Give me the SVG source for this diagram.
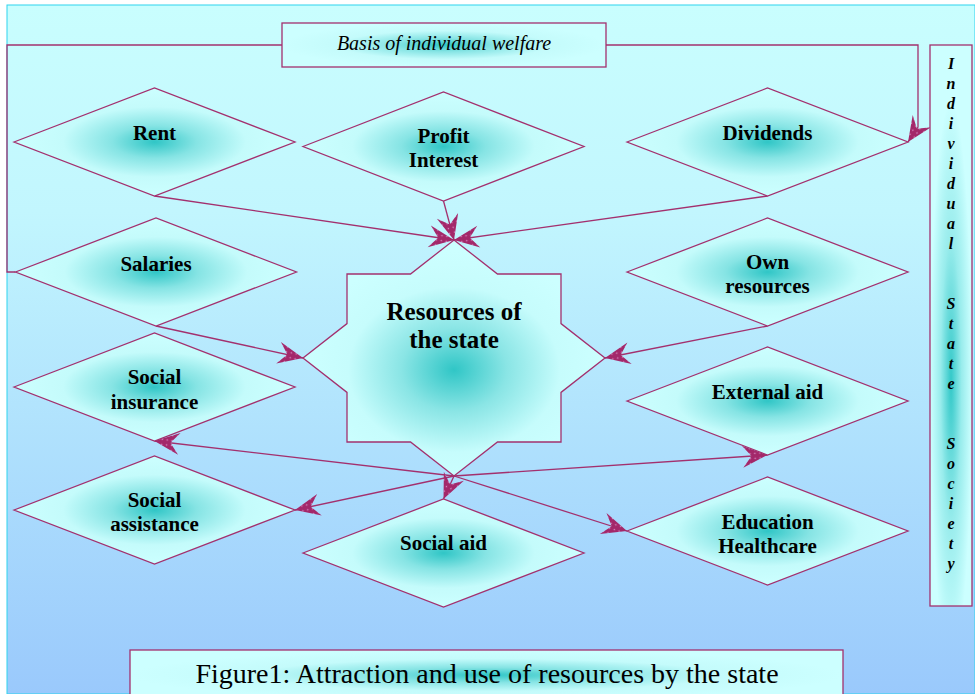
<svg xmlns="http://www.w3.org/2000/svg" width="975" height="694" viewBox="0 0 975 694">
<defs>
<linearGradient id="bg" x1="0" y1="0" x2="0" y2="1">
<stop offset="0" stop-color="#c9fefe"/>
<stop offset="0.3" stop-color="#c2f6fe"/>
<stop offset="1" stop-color="#9ac9fc"/>
</linearGradient>
<radialGradient id="dg" cx="0.5" cy="0.5" r="0.5">
<stop offset="0" stop-color="#30c6c6"/>
<stop offset="0.3" stop-color="#86e4e4"/>
<stop offset="0.65" stop-color="#c4fbfb"/>
<stop offset="1" stop-color="#ccffff"/>
</radialGradient>
<radialGradient id="sg" cx="0.5" cy="0.55" r="0.5">
<stop offset="0" stop-color="#30c6c6"/>
<stop offset="0.35" stop-color="#8ae5e5"/>
<stop offset="0.7" stop-color="#c6fcfc"/>
<stop offset="1" stop-color="#ccffff"/>
</radialGradient>
<radialGradient id="vg" cx="0.5" cy="0.6" r="0.5">
<stop offset="0" stop-color="#33c8c8"/>
<stop offset="0.5" stop-color="#98ecec"/>
<stop offset="1" stop-color="#ccffff"/>
</radialGradient>
<pattern id="dots" width="5" height="5" patternUnits="userSpaceOnUse">
<rect width="5" height="5" fill="#a3286a"/>
<circle cx="2.5" cy="2.5" r="0.8" fill="#d98cc4"/>
</pattern>
<marker id="arr" markerUnits="userSpaceOnUse" viewBox="-27 -13 29 26" refX="0" refY="0" markerWidth="29" markerHeight="26" orient="auto">
<path d="M0,0 L-25,-11 L-16,0 L-25,11 Z" fill="url(#dots)"/>
</marker>
<style>
.nd{stroke:#a3306e;stroke-width:1.3;fill:url(#dg)}
.lb{font-family:"Liberation Serif","Times New Roman",serif;font-weight:bold;font-size:21px;fill:#000;text-anchor:middle}
.big{font-size:25px}
.cn{stroke:#a3306e;stroke-width:1.3;fill:none}
.ar{marker-end:url(#arr)}
</style>
</defs>
<rect x="0" y="0" width="975" height="694" fill="#ffffff"/>
<rect x="7" y="5" width="968" height="689" fill="url(#bg)" stroke="#2fd3ee" stroke-width="1"/>

<g id="connectors">
<polyline class="cn" points="15.5,272 7,272 7,45 282,45"/>
<polyline class="cn ar" points="606,45 918,45 918,127 908,142"/>
<line class="cn ar" x1="154.5" y1="196" x2="454" y2="240"/>
<line class="cn ar" x1="443.5" y1="201" x2="454" y2="240"/>
<line class="cn ar" x1="767.5" y1="196" x2="454" y2="240"/>
<line class="cn ar" x1="156" y1="326" x2="303" y2="358"/>
<line class="cn ar" x1="767.5" y1="326" x2="605" y2="358"/>
<line class="cn ar" x1="454" y1="476" x2="154.5" y2="441"/>
<line class="cn ar" x1="454" y1="476" x2="295" y2="510"/>
<line class="cn ar" x1="454" y1="476" x2="767.5" y2="455"/>
<line class="cn ar" x1="454" y1="476" x2="627" y2="531"/>
<line class="cn ar" x1="454" y1="476" x2="443.5" y2="499"/>
</g>

<g id="basis">
<rect x="282" y="23" width="324" height="44" class="nd"/>
<text x="444" y="50" font-family="Liberation Serif, serif" font-style="italic" font-size="20" text-anchor="middle" fill="#000">Basis of individual welfare</text>
</g>

<g id="rent">
<polygon class="nd" points="14,142 154.5,88 295,142 154.5,196"/>
<text class="lb" x="154.5" y="140">Rent</text>
</g>
<g id="profit">
<polygon class="nd" points="303,146.5 443.5,92 584,146.5 443.5,201"/>
<text class="lb" x="443.5" y="143">Profit</text>
<text class="lb" x="443.5" y="167">Interest</text>
</g>
<g id="dividends">
<polygon class="nd" points="627,142 767.5,88 908,142 767.5,196"/>
<text class="lb" x="767.5" y="140">Dividends</text>
</g>
<g id="salaries">
<polygon class="nd" points="15.5,272 156,218 296.5,272 156,326"/>
<text class="lb" x="156" y="270.5">Salaries</text>
</g>
<g id="own">
<polygon class="nd" points="627,272 767.5,218 908,272 767.5,326"/>
<text class="lb" x="767.5" y="269">Own</text>
<text class="lb" x="767.5" y="293">resources</text>
</g>
<g id="external">
<polygon class="nd" points="627,401 767.5,347 908,401 767.5,455"/>
<text class="lb" x="767.5" y="399">External aid</text>
</g>
<g id="education">
<polygon class="nd" points="627,531 767.5,477 908,531 767.5,585"/>
<text class="lb" x="767.5" y="528.5">Education</text>
<text class="lb" x="767.5" y="552.5">Healthcare</text>
</g>
<g id="socins">
<polygon class="nd" points="14,387 154.5,333 295,387 154.5,441"/>
<text class="lb" x="154.5" y="384">Social</text>
<text class="lb" x="154.5" y="408.5">insurance</text>
</g>
<g id="socass">
<polygon class="nd" points="14,510 154.5,456 295,510 154.5,564"/>
<text class="lb" x="154.5" y="507">Social</text>
<text class="lb" x="154.5" y="531">assistance</text>
</g>
<g id="socaid">
<polygon class="nd" points="303,553 443.5,499 584,553 443.5,607"/>
<text class="lb" x="443.5" y="549.5">Social aid</text>
</g>

<g id="state">
<polygon points="454,240 497.5,274 561,274 561,323.6 605,358 561,392.4 561,442 497.5,442 454,476 410.5,442 347,442 347,392.4 303,358 347,323.6 347,274 410.5,274" stroke="#a3306e" stroke-width="1.3" fill="url(#sg)"/>
<text class="lb big" x="454" y="320">Resources of</text>
<text class="lb big" x="454" y="347.5">the state</text>
</g>

<g id="side">
<rect x="930" y="45" width="42" height="561" stroke="#a3306e" stroke-width="1.3" fill="url(#vg)"/>
<text font-family="Liberation Serif, serif" font-weight="bold" font-style="italic" font-size="16" text-anchor="middle" fill="#000">
<tspan x="951" y="69">I</tspan><tspan x="951" y="89">n</tspan><tspan x="951" y="109">d</tspan><tspan x="951" y="129">i</tspan><tspan x="951" y="149">v</tspan><tspan x="951" y="169">i</tspan><tspan x="951" y="189">d</tspan><tspan x="951" y="209">u</tspan><tspan x="951" y="229">a</tspan><tspan x="951" y="249">l</tspan><tspan x="951" y="309">S</tspan><tspan x="951" y="329">t</tspan><tspan x="951" y="349">a</tspan><tspan x="951" y="369">t</tspan><tspan x="951" y="389">e</tspan><tspan x="951" y="449">S</tspan><tspan x="951" y="469">o</tspan><tspan x="951" y="489">c</tspan><tspan x="951" y="509">i</tspan><tspan x="951" y="529">e</tspan><tspan x="951" y="549">t</tspan><tspan x="951" y="569">y</tspan>
</text>
</g>

<g id="caption">
<rect x="130" y="650" width="713" height="50" stroke="#a3306e" stroke-width="1.3" fill="url(#dg)"/>
<text x="487" y="683" font-family="Liberation Serif, serif" font-size="28" text-anchor="middle" fill="#000">Figure1: Attraction and use of resources by the state</text>
</g>
</svg>
